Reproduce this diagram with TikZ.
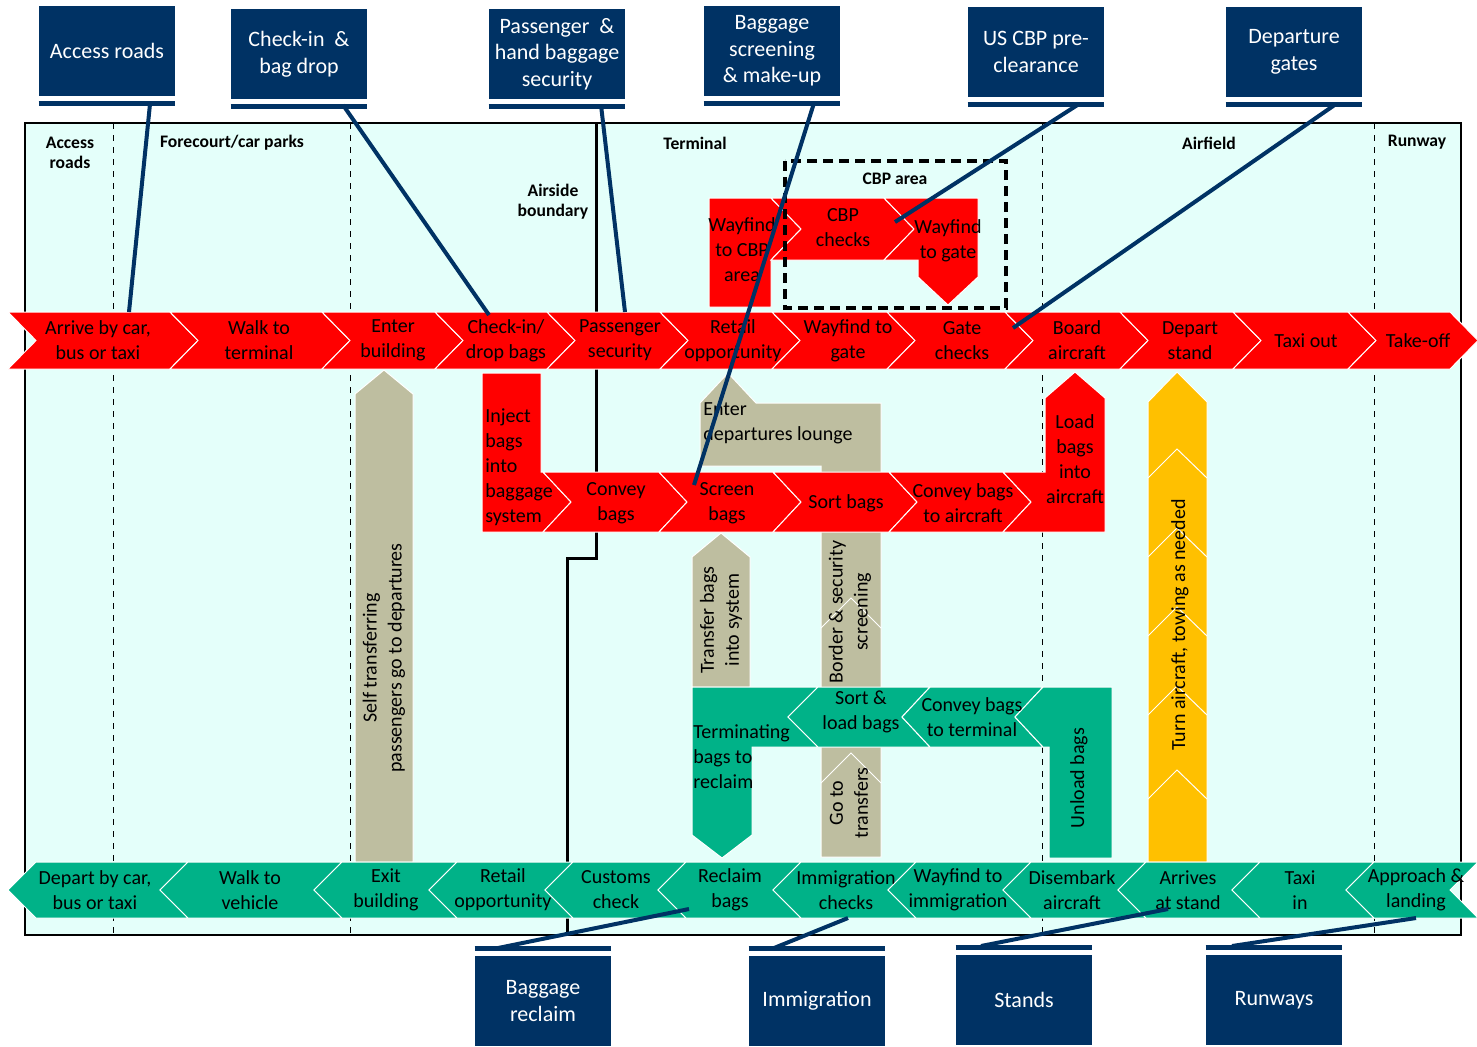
\documentclass[tikz,border=0pt]{standalone}
\usepackage{fontspec}
\setmainfont{Carlito}
\usepackage{tikz}

\definecolor{bgcyan}{RGB}{228,255,250}
\definecolor{depred}{RGB}{255,0,0}
\definecolor{arrgreen}{RGB}{0,178,136}
\definecolor{transgrey}{RGB}{190,190,160}
\definecolor{turnyellow}{RGB}{255,192,0}
\definecolor{navy}{RGB}{0,50,100}

\tikzset{
  flow/.style={draw=white, line width=0.5pt},
  dep/.style={flow, fill=depred},
  arr/.style={flow, fill=arrgreen},
  trans/.style={flow, fill=transgrey},
  turn/.style={flow, fill=turnyellow},
  lbl/.style={align=center, inner sep=0pt, font=\fontsize{10}{12.5}\selectfont},
  zone/.style={align=center, inner sep=0pt, font=\bfseries\fontsize{8.8}{10}\selectfont},
  callout/.style={fill=navy, text=white, align=center, inner sep=0pt,
    minimum width=68pt, minimum height=45pt, font=\fontsize{11}{13.3}\selectfont},
  bar/.style={draw=navy, line width=2.5pt},
  link/.style={draw=navy, line width=2pt}
}

\begin{document}
\begin{tikzpicture}[x=0.5pt, y=-0.5pt]
  \useasboundingbox (0,0) rectangle (1477,1046);

  % zones
  \filldraw[fill=bgcyan, draw=black, line width=1.2pt] (25,123) rectangle (1461,935);
  \foreach \x in {113,350,1042,1374}
    \draw[dashed, line width=0.4pt] (\x,123) -- (\x,935);
  \draw[line width=1.5pt] (596,123) -- (596,558) -- (567,558) -- (567,935);
  \node[zone] (z-access) at (70,153) {Access\\roads};
  \node[zone] (z-fore) at (232,143) {Forecourt/car parks};
  \node[zone] (z-term) at (695,143) {Terminal};
  \node[zone] (z-air) at (1209,143) {Airfield};
  \node[zone] (z-rwy) at (1417,142) {Runway};
  \node[zone] (airside) at (553,202) {Airside\\boundary};

  % transfer and turn-round flows
  \filldraw[trans] (355,862) -- (355,394) -- (384,370) -- (413,394) -- (413,862) -- cycle;
  \filldraw[trans] (700,466) -- (700,403) -- (728,373) -- (756,403) -- (881,403)
    -- (881,857) -- (821,857) -- (821,466) -- cycle;
  \draw[flow] (821,628) -- (851,598) -- (881,628);
  \draw[flow] (821,783) -- (851,753) -- (881,783);
  \filldraw[trans] (692,687) -- (692,557) -- (721,533) -- (750,557) -- (750,687) -- cycle;
  \filldraw[turn] (1148,862) -- (1148,402) -- (1177,372) -- (1207,402) -- (1207,862) -- cycle;
  \foreach \y in {449,528,607,686,770}
    \draw[flow] (1148,{\y+29}) -- (1177,\y) -- (1207,{\y+29});

  % departing bags
  \filldraw[dep] (482,373) -- (541,373) -- (541,472) -- (543,472) -- (571,502)
    -- (543,532) -- (482,532) -- cycle;
  \foreach \a/\b/\x/\txt [count=\i] in {543/659/616/{Convey\\bags},
      659/773/727/{Screen\\bags}, 773/889/846/{Sort bags},
      889/1003/963/{Convey bags\\to aircraft}}
  {
    \filldraw[dep] (\a,472) -- (\b,472) -- ({\b+28},502) -- (\b,532) -- (\a,532) -- ({\a+28},502) -- cycle;
    \node[lbl] (bag\i) at (\x,503) {\txt};
  }
  \filldraw[dep] (1003,472) -- (1045,472) -- (1045,398) -- (1075,372) -- (1105,398)
    -- (1105,532) -- (1003,532) -- (1031,502) -- cycle;
  \node[lbl, align=left, anchor=west] (inject) at (485,467) {Inject\\bags\\into\\baggage\\system};
  \node[lbl] (load) at (1075,459) {Load\\bags\\into\\aircraft};

  % arriving bags
  \filldraw[arr] (692,687) -- (818,687) -- (788,717) -- (818,747) -- (752,747)
    -- (752,835) -- (722,858) -- (692,835) -- cycle;
  \filldraw[arr] (818,687) -- (930,687) -- (902,717) -- (930,747) -- (818,747) -- (788,717) -- cycle;
  \filldraw[arr] (930,687) -- (1043,687) -- (1015,717) -- (1043,747) -- (930,747) -- (902,717) -- cycle;
  \filldraw[arr] (1043,687) -- (1112,687) -- (1112,858) -- (1049,858) -- (1049,747)
    -- (1043,747) -- (1015,717) -- cycle;
  \node[lbl, align=left, anchor=west] (term) at (693,757) {Terminating\\bags to\\reclaim};
  \node[lbl] (sortload) at (861,712) {Sort \&\\load bags};
  \node[lbl] (conveyterm) at (972,717) {Convey bags\\to terminal};
  \node[lbl, rotate=90] (unload) at (1079,778) {Unload bags};

  \node[lbl, rotate=90] (selftrans) at (384,658) {Self transferring\\passengers go to departures};
  \node[lbl, rotate=90] (transfer) at (721,620) {Transfer bags\\into system};
  \node[lbl, rotate=90] (border) at (850,612) {Border \& security\\screening};
  \node[lbl, rotate=90] (goto) at (849,803) {Go to\\transfers};
  \node[lbl, rotate=90] (turnac) at (1180,625) {Turn aircraft, towing as needed};
  \node[lbl, align=left, anchor=west] (lounge) at (703,423) {Enter\\departures lounge};

  % departing passengers
  \foreach \a/\b/\x/\txt [count=\i] in {8/170/98/{Arrive by car,\\bus or taxi},
      170/322/259/{Walk to\\terminal}, 322/435/393/{Enter\\building},
      435/547/506/{Check-in/\\drop bags}, 547/660/620/{Passenger\\security},
      660/772/733/{Retail\\opportunity}, 772/887/848/{Wayfind to\\gate},
      887/1005/962/{Gate\\checks}, 1005/1120/1077/{Board\\aircraft},
      1120/1233/1190/{Depart\\stand}, 1233/1348/1306/{Taxi out}, 1348/1450/1418/{Take-off}}
  {
    \filldraw[dep] (\a,312) -- (\b,312) -- ({\b+28},340.5) -- (\b,369) -- (\a,369) -- ({\a+28},340.5) -- cycle;
    \node[lbl] (dep\i) at (\x,340.5) {\txt};
  }

  % arriving passengers
  \foreach \a/\b/\x/\txt [count=\i] in {8/160/95/{Depart by car,\\bus or taxi},
      160/314/250/{Walk to\\vehicle}, 314/429/386/{Exit\\building},
      429/545/503/{Retail\\opportunity}, 545/658/616/{Customs\\check},
      658/773/730/{Reclaim\\bags}, 773/888/846/{Immigration\\checks},
      888/1003/958/{Wayfind to\\immigration}, 1003/1118/1072/{Disembark\\aircraft},
      1118/1232/1188/{Arrives\\at stand}, 1232/1346/1300/{Taxi\\in},
      1346/1450/1416/{Approach \&\\landing}}
  {
    \filldraw[arr] (\a,890) -- ({\a+28},862) -- ({\b+28},862) -- (\b,890) -- ({\b+28},918) -- ({\a+28},918) -- cycle;
    \node[lbl] (arr\i) at (\x,890) {\txt};
  }

  % CBP pre-clearance
  \filldraw[dep] (709,198) -- (771,198) -- (801,229) -- (771,260) -- (771,307) -- (709,307) -- cycle;
  \filldraw[dep] (771,198) -- (884,198) -- (914,229) -- (884,260) -- (771,260) -- (801,229) -- cycle;
  \filldraw[dep] (884,198) -- (978,198) -- (978,277) -- (948,305) -- (918,277) -- (918,260)
    -- (884,260) -- (914,229) -- cycle;
  \node[lbl] (wfcbp) at (742,250) {Wayfind\\to CBP\\area};
  \node[lbl] (cbpchk) at (843,228) {CBP\\checks};
  \node[lbl] (wfgate) at (948,241) {Wayfind\\to gate};
  \draw[line width=2pt, dash pattern=on 5pt off 3pt] (785,161) rectangle (1006,308);
  \node[zone] (cbparea) at (895,179) {CBP area};

  % callouts
  \node[callout] (access) at (107,51) {Access roads};
  \node[callout] (checkin) at (299,54) {Check-in \ \&\\bag drop};
  \node[callout] (paxsec) at (557,54) {Passenger \ \&\\hand baggage\\security};
  \node[callout] (bagscreen) at (772,51) {Baggage\\screening\\\& make-up};
  \node[callout] (uscbp) at (1036,52) {US CBP pre-\\clearance};
  \node[callout] (depgates) at (1294,52) {Departure\\gates};
  \node[callout] (reclaim) at (543,1001) {Baggage\\reclaim};
  \node[callout] (immig) at (817,1001) {Immigration};
  \node[callout] (stands) at (1024,1000) {Stands};
  \node[callout] (runways) at (1274,1000) {Runways};
  \foreach \n in {access,checkin,paxsec,bagscreen,uscbp,depgates}
    \draw[bar] ([yshift=-3.5pt]\n.south west) -- ([yshift=-3.5pt]\n.south east);
  \foreach \n in {reclaim,immig,stands,runways}
    \draw[bar] ([yshift=3.5pt]\n.north west) -- ([yshift=3.5pt]\n.north east);

  \coordinate (access-bar) at (150,104);
  \coordinate (checkin-bar) at (343,105);
  \coordinate (paxsec-bar) at (601,105);
  \coordinate (bagscreen-bar) at (814,103);
  \coordinate (uscbp-bar) at (1079,104);
  \coordinate (depgates-bar) at (1336,104);
  \coordinate (reclaim-bar) at (498,948);
  \coordinate (immig-bar) at (774,948);
  \coordinate (stands-bar) at (981,946);
  \coordinate (runways-bar) at (1232,946);
  \coordinate (arrive-pt) at (129,312);
  \coordinate (checkin-pt) at (489,315);
  \coordinate (paxsec-pt) at (625,312);
  \coordinate (screen-pt) at (694,485);
  \coordinate (cbp-pt) at (895,222);
  \coordinate (gate-pt) at (1013,328);
  \coordinate (reclaim-pt) at (689,909);
  \coordinate (immig-pt) at (848,918);
  \coordinate (stand-pt) at (1168,909);
  \coordinate (landing-pt) at (1416,918);
  \path[link]
    (access-bar) edge (arrive-pt)
    (checkin-bar) edge (checkin-pt)
    (paxsec-bar) edge (paxsec-pt)
    (bagscreen-bar) edge (screen-pt)
    (uscbp-bar) edge (cbp-pt)
    (depgates-bar) edge (gate-pt)
    (reclaim-bar) edge (reclaim-pt)
    (immig-bar) edge (immig-pt)
    (stands-bar) edge (stand-pt)
    (runways-bar) edge (landing-pt)
  ;
\end{tikzpicture}
\end{document}
